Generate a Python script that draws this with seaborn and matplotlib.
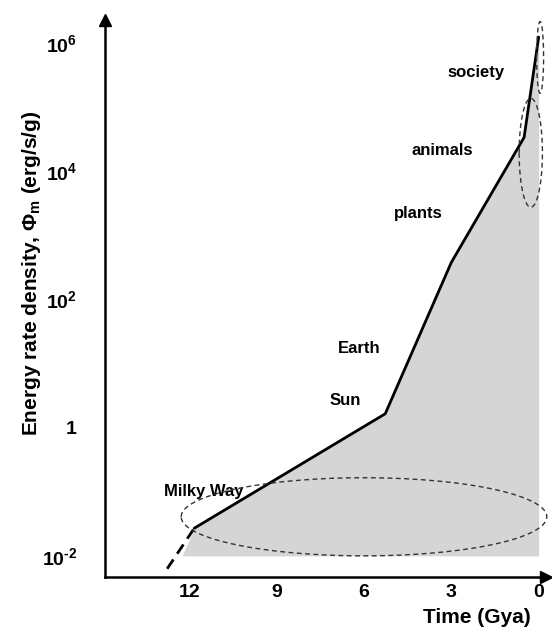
import numpy as np
import matplotlib
matplotlib.use("Agg")
import matplotlib.pyplot as plt
import seaborn as sns
from matplotlib.ticker import FixedLocator, FixedFormatter

# ---- data ----
# solid curve (time in Gya, energy rate density in erg/s/g)
time_gya = [11.83, 5.27, 3.0, 0.5, 0.0]
phi_m = [0.027, 1.65, 380, 34000, 1.25e6]

# dashed extrapolation at the early end
dash_time = [12.76, 11.83]
dash_phi = [0.0063, 0.027]

# shaded area starts here on the 10^-2 floor
shade_start_time = 12.25
shade_floor = 0.01

# labels placed in data coordinates
labels = ["Milky Way", "Sun", "Earth", "plants", "animals", "society"]
label_time = [11.5, 6.63, 6.17, 4.12, 3.31, 2.15]
label_phi = [0.1, 2.7, 17, 2200, 21000, 3.5e5]

# dashed ellipses: center time, half width (Gy), center log10(phi), half height (decades)
ell_cx = [6.0, 0.27, -0.05]
ell_a = [6.28, 0.40, 0.12]
ell_cy = [-1.39, 4.29, 5.78]
ell_b = [0.61, 0.85, 0.56]

xticks = [12, 9, 6, 3, 0]
ytick_pows = list(range(-2, 7))
ytick_text = {-2: "$10^{\u20102}$", 0: "1", 2: r"$10^{2}$", 4: r"$10^{4}$", 6: r"$10^{6}$"}

# ---- style ----
sns.set_style("white")
plt.rcParams["font.family"] = ["Liberation Sans", "DejaVu Sans"]
plt.rcParams["font.weight"] = "bold"
plt.rcParams["text.color"] = "black"
plt.rcParams["axes.labelcolor"] = "black"
plt.rcParams["xtick.color"] = "black"
plt.rcParams["ytick.color"] = "black"
plt.rcParams["mathtext.fontset"] = "custom"
plt.rcParams["mathtext.rm"] = "Liberation Sans:bold"
plt.rcParams["mathtext.bf"] = "Liberation Sans:bold"
plt.rcParams["mathtext.it"] = "Liberation Sans:bold:italic"
plt.rcParams["mathtext.default"] = "rm"

fig = plt.figure(figsize=(5.52, 6.32), dpi=100)
ax = fig.add_axes([0.190, 0.087, 0.799, 0.881])

# shaded area under the curve
fill_x = [shade_start_time] + time_gya
fill_y = [shade_floor] + phi_m
ax.fill_between(fill_x, shade_floor, fill_y, color="#d5d5d5", linewidth=0, zorder=1)

# main curve
sns.lineplot(x=time_gya, y=phi_m, color="black", linewidth=2.0, ax=ax,
             sort=False, estimator=None, zorder=3)
ax.plot(dash_time, dash_phi, color="black", linewidth=2.0, dashes=(4, 2.5),
        zorder=3, clip_on=False)

# dashed ellipses
t = np.linspace(0, 2 * np.pi, 300)
for cx, a, cy, b in zip(ell_cx, ell_a, ell_cy, ell_b):
    ax.plot(cx + a * np.cos(t), 10 ** (cy + b * np.sin(t)), color="#333333",
            linewidth=1.0, dashes=(3.5, 2.5), zorder=4, clip_on=False)

# labels
for txt, lx, ly in zip(labels, label_time, label_phi):
    ax.text(lx, ly, txt, ha="center", va="center", fontsize=12, fontweight="bold")

# ---- axes ----
ax.set_yscale("log")
ax.set_xlim(14.9, -0.25)
ax.set_ylim(10 ** -2.33, 10 ** 6.36)

ax.set_xticks(xticks)
ax.set_xticklabels([str(v) for v in xticks])
ax.yaxis.set_major_locator(FixedLocator([10.0 ** p for p in ytick_pows]))
ax.yaxis.set_major_formatter(FixedFormatter([ytick_text.get(p, "") for p in ytick_pows]))
ax.yaxis.set_minor_locator(FixedLocator([]))

ax.tick_params(axis="both", direction="in", length=6, width=1.6, labelsize=14)
ax.tick_params(axis="y", pad=20)
ax.tick_params(axis="x", pad=5)

for side in ["top", "right"]:
    ax.spines[side].set_visible(False)
for side in ["left", "bottom"]:
    ax.spines[side].set_linewidth(1.8)
    ax.spines[side].set_color("black")

# arrow heads at the axis ends
ax.plot(1, 0, ">k", transform=ax.transAxes, clip_on=False, markersize=8)
ax.plot(0, 1, "^k", transform=ax.transAxes, clip_on=False, markersize=9)

ax.set_ylabel(r"Energy rate density, $\Phi_{m}$ (erg/s/g)", fontsize=15, fontweight="bold")
ax.yaxis.set_label_coords(-0.14, 0.546)
ax.set_xlabel("Time (Gya)", fontsize=15, fontweight="bold")
ax.xaxis.set_label_coords(0.843, -0.055)

fig.savefig("out.png", dpi=100)
